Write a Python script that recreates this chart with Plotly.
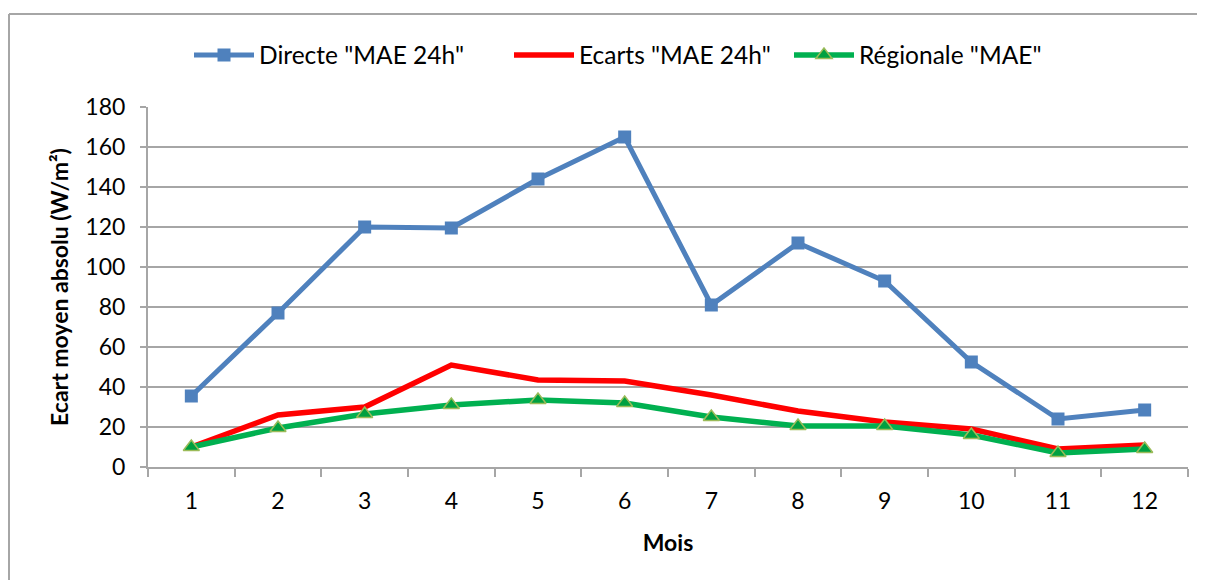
import plotly.graph_objects as go

months = ["1", "2", "3", "4", "5", "6", "7", "8", "9", "10", "11", "12"]
directe = [35.5, 77, 120, 119.5, 144, 165, 81, 112, 93, 52.5, 24, 28.5]
ecarts = [10, 26, 30, 51, 43.5, 43, 36, 28, 22.5, 19, 9, 11]
regionale = [10, 19.5, 26.5, 31, 33.5, 32, 25, 20.5, 20.5, 16, 7, 9]

names = ['Directe "MAE 24h"', 'Ecarts "MAE 24h"', 'Régionale "MAE"']

FONT = "Lato, 'Open Sans', sans-serif"
FS = 23
LFS = 24.5

fig = go.Figure()
fig.add_trace(go.Scatter(
    x=months, y=directe, name=names[0], mode="lines+markers", legend="legend",
    line=dict(color="#4F81BD", width=5),
    marker=dict(symbol="square", size=13, color="#4F81BD"),
))
fig.add_trace(go.Scatter(
    x=months, y=ecarts, name=names[1], mode="lines", legend="legend2",
    line=dict(color="#FF0000", width=5.5),
))
fig.add_trace(go.Scatter(
    x=months, y=regionale, name=names[2], mode="lines+markers", legend="legend3",
    line=dict(color="#00B050", width=5.5),
    marker=dict(symbol="triangle-up", size=14, color="#00A040",
                line=dict(color="#9BBB59", width=1.5)),
))

# plot area is 1040 x 360 px, starting at page x=148, y=107
W, H = 1040.0, 360.0
left_x = (9 - 148) / W
top_y = (467 - 14) / H
fig.add_shape(type="line", xref="paper", yref="paper",
              x0=left_x, x1=1.2, y0=top_y, y1=top_y,
              line=dict(color="#A6A6A6", width=2))
fig.add_shape(type="line", xref="paper", yref="paper",
              x0=left_x, x1=left_x, y0=top_y, y1=-0.5,
              line=dict(color="#A6A6A6", width=2))

leg_y = (467 - 55) / H
def leg(px):
    return dict(orientation="h", x=(px - 148) / W, xanchor="left", y=leg_y,
                yanchor="middle", font=dict(size=LFS), itemwidth=60,
                bgcolor="rgba(0,0,0,0)")

fig.update_layout(
    width=1197, height=572,
    margin=dict(l=140, r=17, t=99, b=113),
    paper_bgcolor="white", plot_bgcolor="white",
    font=dict(family=FONT, size=FS, color="black"),
    showlegend=True,
    legend=leg(189), legend2=leg(509), legend3=leg(789),
    xaxis=dict(
        type="category", range=[-0.5, len(months) - 0.5],
        tickson="boundaries", ticks="outside", ticklen=8,
        tickcolor="#A6A6A6", tickwidth=2, ticklabelstandoff=12,
        showline=True, linecolor="#A6A6A6", linewidth=2,
        showgrid=False, zeroline=False,
        title=dict(text="<b>Mois</b>", font=dict(size=FS), standoff=22),
        tickfont=dict(size=FS),
    ),
    yaxis=dict(
        range=[0, 180], dtick=20, ticks="outside", ticklen=6,
        tickcolor="#A6A6A6", tickwidth=2, ticklabelstandoff=10,
        showline=True, linecolor="#A6A6A6", linewidth=2,
        showgrid=True, gridcolor="#A6A6A6", gridwidth=1.5,
        zeroline=False,
        title=dict(text="<b>Ecart moyen absolu (W/m²)</b>", font=dict(size=FS), standoff=10),
        tickfont=dict(size=FS),
    ),
)

fig.write_html("out.html")
